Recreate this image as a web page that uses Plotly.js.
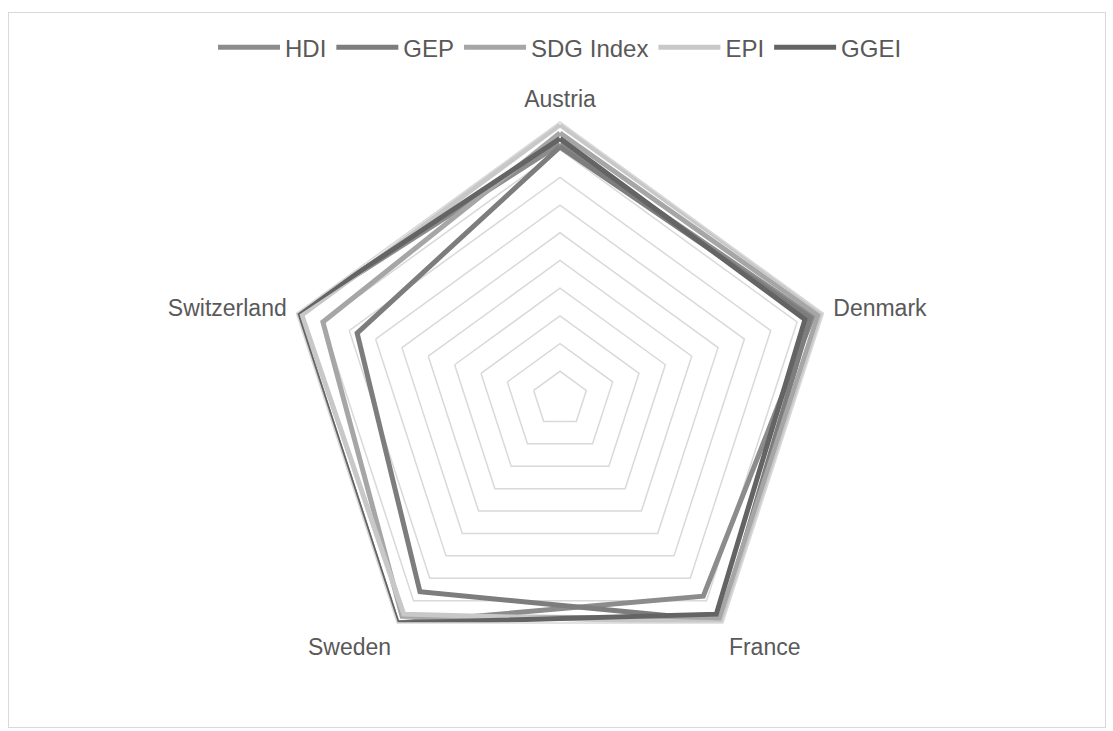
<!DOCTYPE html>
<html>
<head>
<meta charset="utf-8">
<script src="https://cdn.plot.ly/plotly-3.0.1.min.js"></script>
<style>
  html, body { margin: 0; padding: 0; background: #ffffff; }
  #frame { position: absolute; left: 8px; top: 12px; width: 1096px; height: 714px; border: 1px solid #d9d9d9; }
  #chart { position: absolute; left: 0; top: 0; width: 1113px; height: 731px; }
</style>
</head>
<body>
<div id="frame"></div>
<div id="chart"></div>
<script>
const countries = ["Austria", "Denmark", "France", "Sweden", "Switzerland"];
const seriesNames = ["HDI", "GEP", "SDG Index", "EPI", "GGEI"];
const hdi  = [0.92, 0.96, 0.88, 1.00, 1.00];
const gep  = [0.91, 0.95, 0.99, 0.86, 0.77];
const sdg  = [0.96, 0.98, 0.98, 0.97, 0.90];
const epi  = [0.99, 1.00, 1.00, 0.96, 0.98];
const ggei = [0.94, 0.93, 0.96, 1.00, 1.00];
const seriesValues = [hdi, gep, sdg, epi, ggei];
const seriesColors = ["#8c8c8c", "#7d7d7d", "#a6a6a6", "#c8c8c8", "#646464"];

const traces = seriesNames.map((name, i) => ({
  type: "scatterpolar",
  mode: "lines",
  name: name,
  r: seriesValues[i].concat([seriesValues[i][0]]),
  theta: countries.concat([countries[0]]),
  line: { color: seriesColors[i], width: 5, shape: "linear" },
  hoverinfo: "name+r+theta"
}));

const layout = {
  width: 1113,
  height: 731,
  margin: { l: 100, r: 93, t: 122, b: 55 },
  paper_bgcolor: "rgba(0,0,0,0)",
  plot_bgcolor: "rgba(0,0,0,0)",
  font: { family: "Liberation Sans, Arial, sans-serif", size: 23, color: "#595959" },
  showlegend: true,
  legend: {
    orientation: "h",
    x: 0.5, xanchor: "center",
    y: 1.134, yanchor: "middle",
    font: { size: 24, color: "#595959" },
    itemwidth: 62,
    bgcolor: "rgba(0,0,0,0)"
  },
  polar: {
    gridshape: "linear",
    bgcolor: "rgba(0,0,0,0)",
    domain: { x: [0, 1], y: [0, 1] },
    radialaxis: {
      range: [0, 1],
      dtick: 0.1,
      tick0: 0,
      showticklabels: false,
      ticks: "",
      showline: false,
      gridcolor: "#d9d9d9",
      gridwidth: 1.5
    },
    angularaxis: {
      rotation: 90,
      direction: "clockwise",
      showgrid: false,
      showline: true,
      linecolor: "#d9d9d9",
      linewidth: 1.5,
      ticks: "outside",
      ticklen: 5,
      tickcolor: "rgba(0,0,0,0)",
      tickfont: { size: 23, color: "#595959" }
    }
  }
};

Plotly.newPlot("chart", traces, layout, { displayModeBar: false, staticPlot: true });
</script>
</body>
</html>
